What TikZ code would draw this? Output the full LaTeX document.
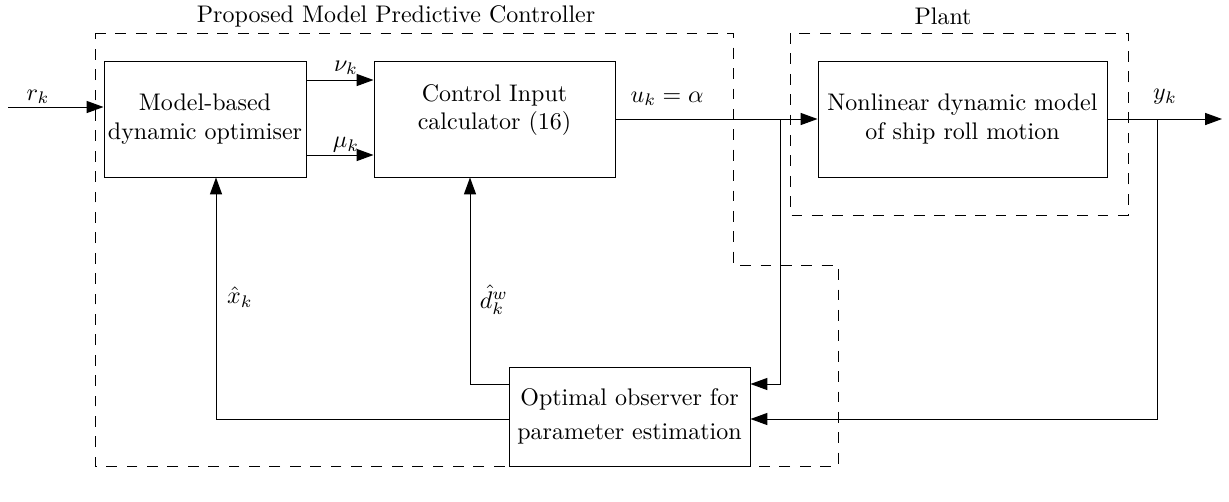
\documentclass[tikz,border=0pt]{standalone}
\usetikzlibrary{arrows.meta}
\begin{document}
\begin{tikzpicture}[x=0.4167pt,y=-0.4167pt,
  blk/.style={draw, align=center, inner sep=0pt},
  arr/.style={-{Triangle[length=7pt,width=5pt]}},
  dsh/.style={dash pattern=on 4.5pt off 4pt},
  lbl/.style={inner sep=1pt}]
\useasboundingbox (0,0) rectangle (1229,501);
% dashed frames
\draw[dsh] (95,33) -- (733,33) -- (733,265) -- (838,265) -- (838,466) -- (95,466) -- cycle;
\draw[dsh] (790,33) rectangle (1128,215);
\node[lbl] (tmpc) at (396,16) {Proposed Model Predictive Controller};
\node[lbl] (tplant) at (943,16) {Plant};
% blocks
\node[blk, minimum width={202*0.4167pt}, minimum height={116*0.4167pt}] (b1) at (205,119) {Model-based\\dynamic optimiser};
\node[blk, minimum width={241*0.4167pt}, minimum height={116*0.4167pt}] (b2) at (494.5,119) {};
\node[align=center] (b2t) at (494.5,110) {Control Input\\calculator (16)};
\node[blk, minimum width={289*0.4167pt}, minimum height={116*0.4167pt}] (b3) at (962.5,119) {Nonlinear dynamic model\\of ship roll motion};
\node[blk, minimum width={241*0.4167pt}, minimum height={99*0.4167pt}] (b4) at (629.5,416.5) {Optimal observer for\\[2pt]parameter estimation};
% coordinates
\coordinate (rin) at (8,107);
\coordinate (j1) at (780,119);
\coordinate (j2) at (1157,119);
\coordinate (yout) at (1222,119);
% connectors
\draw[arr] (rin) -- (rin -| b1.west);
\draw[arr] (b1.east |- 0,80) -- (b2.west |- 0,80);
\draw[arr] (b1.east |- 0,155) -- (b2.west |- 0,155);
\draw[arr] (b2.east) -- (b3.west);
\draw[arr] (b3.east) -- (yout);
\draw[arr] (j1) |- (b4.east |- 0,384);
\draw[arr] (j2) |- (b4.east |- 0,419);
\draw[arr] (b4.west |- 0,384) -| (b2.south -| 470,0);
\draw[arr] (b4.west |- 0,419) -| (b1.south -| 216,0);
% labels
\node[lbl] (lr) at (38,97) {$r_k$};
\node[lbl] (lnu) at (346,68) {$\nu_k$};
\node[lbl] (lmu) at (346,145) {$\mu_k$};
\node[lbl] (lu) at (667,99) {$u_k=\alpha$};
\node[lbl] (ly) at (1165,97) {$y_k$};
\node[lbl] (lx) at (240,297) {$\hat{x}_k$};
\node[lbl] (ld) at (494,300) {$\hat{d}^{w}_{k}$};
\end{tikzpicture}
\end{document}
